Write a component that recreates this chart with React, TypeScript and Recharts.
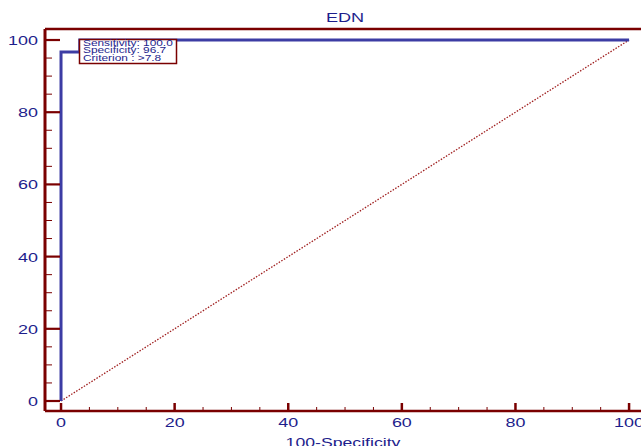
import { ComposedChart, Line, XAxis, YAxis, ReferenceLine } from 'recharts';

const rocCurve = [
  { x: 0, y: 0 },
  { x: 0, y: 96.7 },
  { x: 3.3, y: 96.7 },
  { x: 3.3, y: 100 },
  { x: 100, y: 100 },
];
const diagonal = [
  { x: 0, y: 0 },
  { x: 100, y: 100 },
];
const tickValues = [0, 5, 10, 15, 20, 25, 30, 35, 40, 45, 50, 55, 60, 65, 70, 75, 80, 85, 90, 95, 100];
const majorTicks = [0, 20, 40, 60, 80, 100];
const infoLines = ['Sensitivity: 100.0', 'Specificity: 96.7', 'Criterion : >7.8'];
const title = 'EDN';
const xLabel = '100-Specificity';

const AXIS = '#7a0000';
const TEXT = '#1e1e8c';
const ROC = '#3c3ca4';
const FONT = '"Liberation Sans", Arial, sans-serif';
const X_DOMAIN = [-2.82, 102.1];
const Y_DOMAIN = [-2.77, 103.05];

// the original output uses horizontally stretched glyphs
const WideText = ({ x, y, sx, size, anchor, children }: any) => (
  <g transform={`translate(${x},${y}) scale(${sx},1)`}>
    <text x={0} y={0} textAnchor={anchor} fill={TEXT} fontSize={size} fontFamily={FONT}>
      {children}
    </text>
  </g>
);

const YTick = (props: any) => {
  const { x, y, payload } = props;
  const major = majorTicks.includes(payload.value);
  return (
    <g>
      <line x1={x} x2={x + (major ? 15 : 7)} y1={y} y2={y} stroke={AXIS} strokeWidth={major ? 2.2 : 1} />
      {major && (
        <WideText x={x - 7} y={y + 5} sx={1.38} size={13} anchor="end">
          {payload.value}
        </WideText>
      )}
    </g>
  );
};

const XTick = (props: any) => {
  const { x, y, payload } = props;
  const major = majorTicks.includes(payload.value);
  return (
    <g>
      <line x1={x} x2={x} y1={y} y2={y - (major ? 8 : 4)} stroke={AXIS} strokeWidth={major ? 2.5 : 1} />
      {major && (
        <WideText x={x} y={y + 16} sx={1.38} size={13} anchor="middle">
          {payload.value}
        </WideText>
      )}
    </g>
  );
};

const XLabel = (props: any) => {
  const { viewBox } = props;
  return (
    <WideText x={viewBox.x + viewBox.width / 2} y={447} sx={1.36} size={13} anchor="middle">
      {xLabel}
    </WideText>
  );
};

export default function App() {
  return (
    <div style={{ position: 'absolute', left: 0, top: 0, width: 641, height: 446, background: '#fff', overflow: 'hidden' }}>
      <ComposedChart width={641} height={446} margin={{ top: 29, right: 0, bottom: 0, left: 0 }}>
        <XAxis
          dataKey="x"
          type="number"
          domain={X_DOMAIN}
          allowDataOverflow
          ticks={tickValues}
          interval={0}
          height={35}
          tickSize={0}
          tickMargin={0}
          tickLine={false}
          tick={<XTick />}
          axisLine={{ stroke: AXIS, strokeWidth: 2.5 }}
          label={<XLabel />}
        />
        <YAxis
          type="number"
          domain={Y_DOMAIN}
          allowDataOverflow
          ticks={tickValues}
          interval={0}
          width={45}
          tickSize={0}
          tickMargin={0}
          tickLine={false}
          tick={<YTick />}
          axisLine={{ stroke: AXIS, strokeWidth: 3 }}
        />
        <ReferenceLine y={Y_DOMAIN[1]} stroke={AXIS} strokeWidth={2.5} />
        <Line
          data={diagonal}
          dataKey="y"
          type="linear"
          stroke="#a02020"
          strokeWidth={1.3}
          strokeDasharray="1.5 1.5"
          dot={false}
          isAnimationActive={false}
        />
        <Line
          data={rocCurve}
          dataKey="y"
          type="linear"
          stroke={ROC}
          strokeWidth={3}
          dot={false}
          isAnimationActive={false}
        />
      </ComposedChart>
      <svg width={641} height={446} style={{ position: 'absolute', left: 0, top: 0, pointerEvents: 'none' }}>
        <WideText x={345} y={22} sx={1.45} size={12.5} anchor="middle">
          {title}
        </WideText>
        <rect x={79.5} y={39.5} width={97} height={24} fill="#fff" stroke={AXIS} strokeWidth={1.5} />
        {infoLines.map((t, i) => (
          <WideText key={t} x={83} y={45.5 + i * 7.5} sx={1.25} size={9.5} anchor="start">
            {t}
          </WideText>
        ))}
      </svg>
    </div>
  );
}
